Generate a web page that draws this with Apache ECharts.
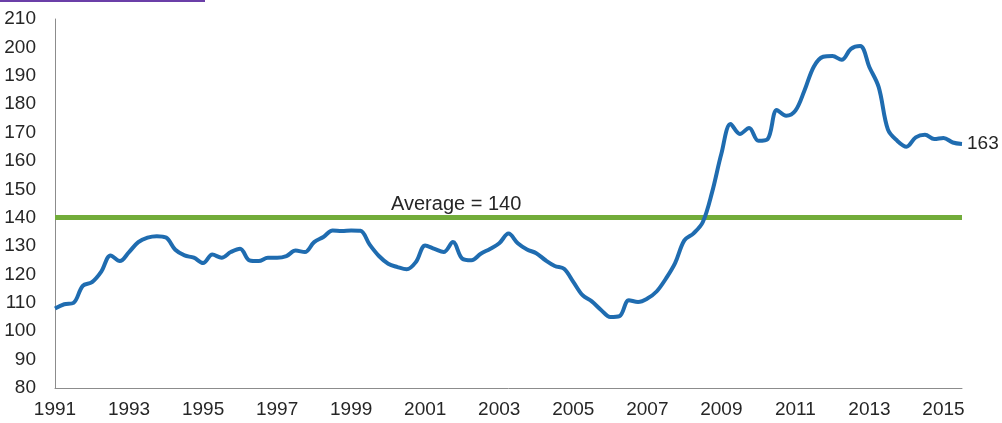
<!DOCTYPE html>
<html>
<head>
<meta charset="utf-8">
<style>html,body{margin:0;padding:0;background:#fff;}#c{width:1002px;height:423px;}</style>
<script src="https://cdn.jsdelivr.net/npm/echarts@6/dist/echarts.min.js"></script>
</head>
<body>
<div id="c"></div>
<script>
// Quarterly index values, 1991 Q1 .. 2015 Q3
const startYear = 1991;
const values = [
  108, 109.5, 110, 116,
  117.3, 121, 126.7, 124.7,
  127.9, 131.4, 133, 133.5,
  133, 128.7, 126.7, 125.9,
  124, 127, 125.9, 127.9,
  129.1, 125, 124.7, 125.9,
  125.9, 126.5, 128.4, 127.9,
  131.4, 133.2, 135.5, 135.3,
  135.5, 135.4, 130.5, 126.5,
  123.8, 122.6, 121.8, 124.4,
  130.2, 129, 127.9, 131.4,
  125.6, 125, 127.3, 129,
  131, 134.4, 131, 128.8,
  127.5, 125, 123, 122,
  117.4, 112.7, 110.5, 107.5,
  105, 105.3, 110.9, 110.3,
  111.5, 114, 118.5, 124,
  132, 134.5, 138.5, 149,
  162.5, 173, 169.5, 171.6,
  167.1, 167.7, 177.9, 175.9,
  177.7, 185, 193.3, 196.7,
  197, 195.6, 199.5, 200.5,
  193, 186, 171, 167.1,
  165, 168.3, 169.2, 167.7,
  168.1, 166.5, 166
];
const average = 140;
const averageLabel = 'Average = 140';
const lastLabel = '163';
const yTicks = { min: 80, max: 210, interval: 10 };

const categories = values.map((v, i) => (startYear + Math.floor(i / 4)) + 'Q' + (i % 4 + 1));

const chart = echarts.init(document.getElementById('c'));
chart.setOption({
  animation: false,
  backgroundColor: '#ffffff',
  textStyle: { fontFamily: 'Liberation Sans' },
  graphic: [{
    type: 'rect', left: 0, top: 0, shape: { width: 205, height: 2 },
    style: { fill: '#6b3fa8' }, silent: true
  }],
  grid: { left: 55, right: 40, top: 19, bottom: 35, containLabel: false },
  xAxis: {
    type: 'category',
    data: categories,
    boundaryGap: false,
    axisLine: { lineStyle: { color: '#8c8c8c', width: 1 } },
    axisTick: { show: false },
    axisLabel: {
      interval: 7,
      margin: 12,
      color: '#262626',
      fontSize: 19,
      fontFamily: 'Liberation Sans',
      formatter: (v) => v.slice(0, 4)
    },
    splitLine: { show: false }
  },
  yAxis: {
    type: 'value',
    min: yTicks.min, max: yTicks.max, interval: yTicks.interval,
    axisLine: { show: true, lineStyle: { color: '#8c8c8c', width: 1 } },
    axisTick: { show: false },
    axisLabel: { margin: 19, color: '#262626', fontSize: 19, fontFamily: 'Liberation Sans' },
    splitLine: { show: false }
  },
  series: [{
    type: 'line',
    data: values,
    smooth: 0.35,
    symbol: 'none',
    showSymbol: false,
    lineStyle: { color: '#1f6cb0', width: 4 },
    itemStyle: { color: '#1f6cb0' },
    z: 3,
    endLabel: {
      show: true,
      formatter: lastLabel,
      distance: 5,
      color: '#262626',
      fontSize: 19,
      fontFamily: 'Liberation Sans'
    },
    markLine: {
      silent: true,
      symbol: 'none',
      z: 2,
      data: [{ yAxis: average }],
      lineStyle: { color: '#72ac3a', width: 5, type: 'solid' },
      label: {
        show: true,
        position: 'insideStartTop',
        formatter: averageLabel,
        color: '#262626',
        fontSize: 20,
        fontFamily: 'Liberation Sans',
        padding: [0, 0, 0, 333],
        distance: 3
      }
    }
  }]
});
</script>
</body>
</html>
